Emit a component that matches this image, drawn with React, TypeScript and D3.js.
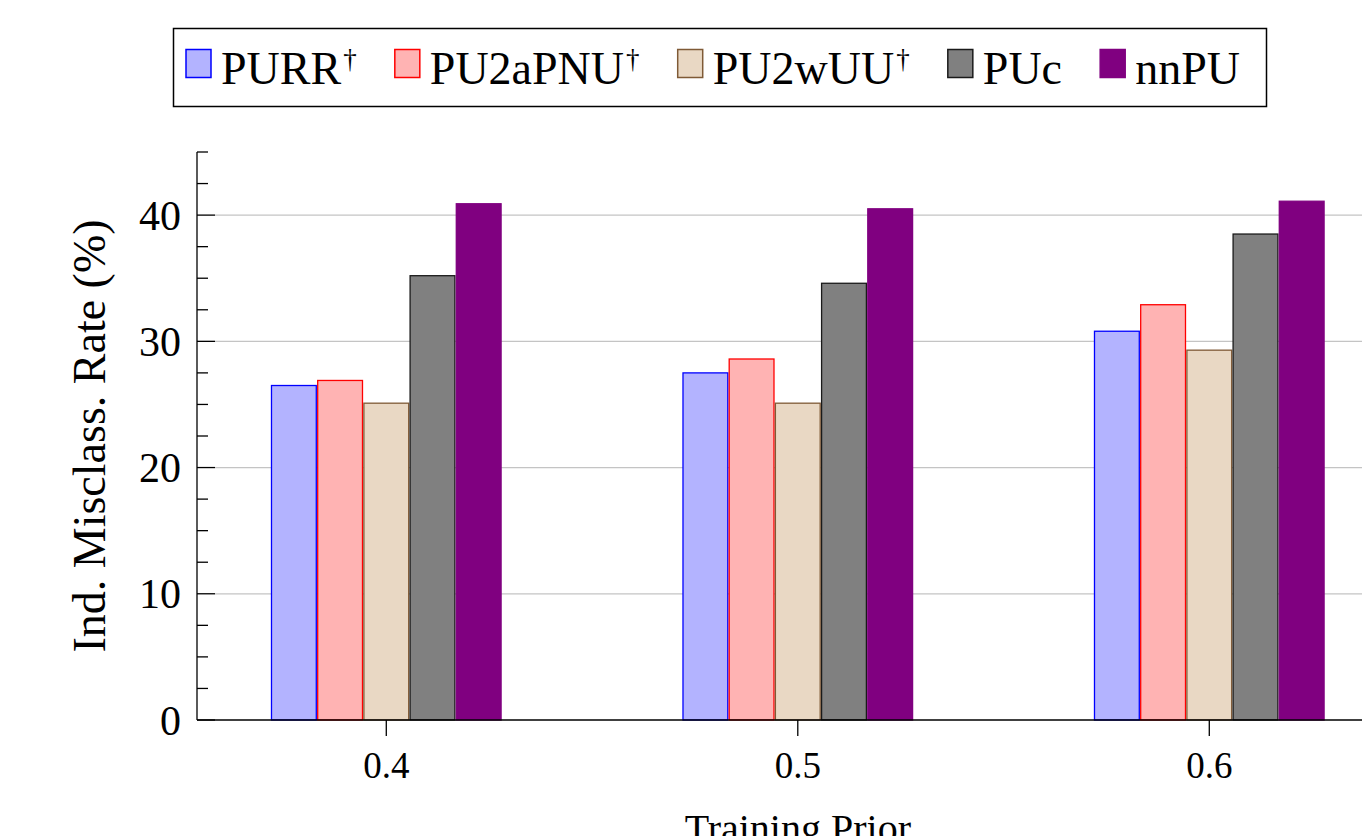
import React, { useRef, useEffect } from "react";
import * as d3 from "d3";

// training priors on the x axis
const priors = [0.4, 0.5, 0.6];
const xTickLabels = ["0.4", "0.5", "0.6"];

// methods (legend order)
const methods = ["PURR", "PU2aPNU", "PU2wUU", "PUc", "nnPU"];
const hasDagger = [true, true, true, false, false];

// misclassification rate (%) per prior
const purr = [26.5, 27.5, 30.8];
const pu2apnu = [26.9, 28.6, 32.9];
const pu2wuu = [25.1, 25.1, 29.3];
const puc = [35.2, 34.6, 38.5];
const nnpu = [40.9, 40.5, 41.1];

const yMajorTicks = [0, 10, 20, 30, 40];
const yMinorTicks = [2.5, 5, 7.5, 12.5, 15, 17.5, 22.5, 25, 27.5, 32.5, 35, 37.5, 42.5, 45];

const fills = ["#b3b3ff", "#ffb3b3", "#e9d8c4", "#808080", "#800080"];
const strokes = ["#0000ff", "#ff0000", "#7f5a36", "#1a1a1a", "#800080"];

const FONT = '"Liberation Serif", "DejaVu Serif", serif';

const App = () => {
  const svgRef = useRef(null);

  useEffect(() => {
    document.body.style.margin = "0";
    const W = 1362;
    const H = 836;
    const series = [purr, pu2apnu, pu2wuu, puc, nnpu];

    const svg = d3.select(svgRef.current);
    svg.selectAll("*").remove();
    svg.attr("width", W).attr("height", H).attr("font-family", FONT);

    const axisX = 197;
    const x = d3.scaleLinear().domain([0.354, 0.646]).range([axisX, axisX + 0.292 * 4115]);
    const y = d3.scaleLinear().domain([0, 45]).range([720, 152]);

    /*** grid lines ***/
    svg
      .append("g")
      .selectAll("line")
      .data(yMajorTicks.filter((t) => t > 0))
      .enter()
      .append("line")
      .attr("x1", axisX + 18)
      .attr("x2", W)
      .attr("y1", (d) => y(d))
      .attr("y2", (d) => y(d))
      .attr("stroke", "#c4c4c4")
      .attr("stroke-width", 1.3);

    /*** bars ***/
    const pitch = 46.2;
    const barW = 44.8;
    series.forEach((vals, i) => {
      svg
        .append("g")
        .selectAll("rect")
        .data(vals)
        .enter()
        .append("rect")
        .attr("x", (d, j) => x(priors[j]) + (i - 2) * pitch - barW / 2)
        .attr("y", (d) => y(d))
        .attr("width", barW)
        .attr("height", (d) => y(0) - y(d))
        .attr("fill", fills[i])
        .attr("stroke", strokes[i])
        .attr("stroke-width", 1.3);
    });

    /*** axes ***/
    const ax = svg.append("g").attr("stroke", "#000").attr("stroke-width", 1.3);
    ax.append("line").attr("x1", axisX).attr("x2", axisX).attr("y1", y(45)).attr("y2", y(0));
    ax.append("line").attr("x1", axisX).attr("x2", x(0.646)).attr("y1", y(0)).attr("y2", y(0));
    ax.selectAll(".major")
      .data(yMajorTicks)
      .enter()
      .append("line")
      .attr("x1", axisX)
      .attr("x2", axisX + 18)
      .attr("y1", (d) => y(d))
      .attr("y2", (d) => y(d));
    ax.selectAll(".minor")
      .data(yMinorTicks)
      .enter()
      .append("line")
      .attr("x1", axisX)
      .attr("x2", axisX + 11)
      .attr("y1", (d) => y(d))
      .attr("y2", (d) => y(d));
    ax.selectAll(".xtick")
      .data(priors)
      .enter()
      .append("line")
      .attr("x1", (d) => x(d))
      .attr("x2", (d) => x(d))
      .attr("y1", y(0))
      .attr("y2", y(0) + 16);

    svg
      .append("g")
      .selectAll("text")
      .data(yMajorTicks)
      .enter()
      .append("text")
      .attr("x", 181)
      .attr("y", (d) => y(d) + 14.5)
      .attr("text-anchor", "end")
      .style("font-size", "42px")
      .text((d) => d);

    svg
      .append("g")
      .selectAll("text")
      .data(priors)
      .enter()
      .append("text")
      .attr("x", (d) => x(d))
      .attr("y", 778)
      .attr("text-anchor", "middle")
      .style("font-size", "37px")
      .text((d, j) => xTickLabels[j]);

    svg
      .append("text")
      .attr("transform", `translate(105, ${(y(0) + y(45)) / 2}) rotate(-90)`)
      .attr("text-anchor", "middle")
      .style("font-size", "46px")
      .text("Ind. Misclass. Rate (%)");

    svg
      .append("text")
      .attr("x", x(0.5))
      .attr("y", 842)
      .attr("text-anchor", "middle")
      .style("font-size", "40px")
      .text("Training Prior");

    /*** legend ***/
    const legend = svg.append("g");
    legend
      .append("rect")
      .attr("x", 173.5)
      .attr("y", 28.5)
      .attr("width", 1093)
      .attr("height", 78)
      .attr("fill", "#fff")
      .attr("stroke", "#000")
      .attr("stroke-width", 1.5);

    const sw = 25;
    const items = methods.map((m, i) => {
      const g = legend.append("g");
      g.append("rect")
        .attr("x", 0)
        .attr("y", 49.5)
        .attr("width", sw)
        .attr("height", 28)
        .attr("fill", fills[i])
        .attr("stroke", strokes[i])
        .attr("stroke-width", 1.5);
      const t = g
        .append("text")
        .attr("x", sw + 10)
        .attr("y", 84)
        .style("font-size", "46px")
        .text(m);
      if (hasDagger[i]) {
        t.append("tspan").attr("dy", -16).attr("dx", 2).style("font-size", "27px").text("†");
      }
      return { g, w: sw + 10 + t.node().getComputedTextLength() + (hasDagger[i] ? 2 : 0) };
    });
    const left = 186;
    const right = 1240;
    const total = d3.sum(items, (d) => d.w);
    const gap = (right - left - total) / (items.length - 1);
    let cx = left;
    items.forEach((it) => {
      it.g.attr("transform", `translate(${cx},0)`);
      cx += it.w + gap;
    });
  }, []);

  return (
    <div style={{ width: 1362, height: 836, background: "#fff" }}>
      <svg ref={svgRef} style={{ display: "block" }}></svg>
    </div>
  );
};

export default App;
